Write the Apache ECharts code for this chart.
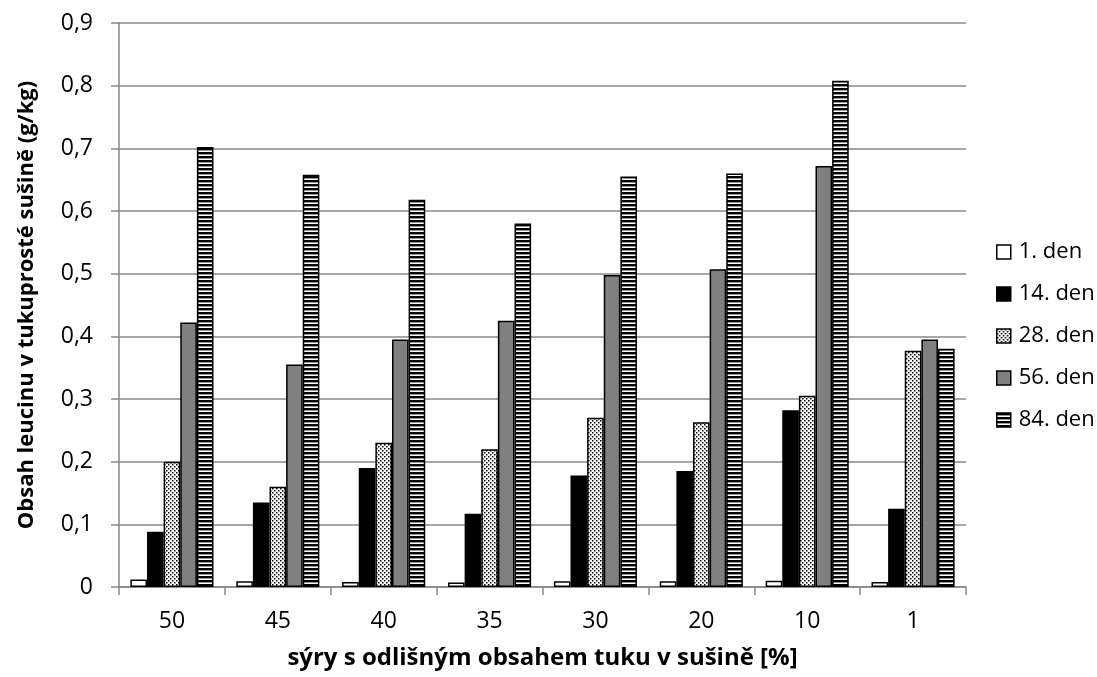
<!DOCTYPE html>
<html>
<head>
<meta charset="utf-8">
<script src="https://cdn.jsdelivr.net/npm/echarts@6/dist/echarts.min.js"></script>
<style>
html,body{margin:0;padding:0;background:#fff;}
#chart{width:1097px;height:677px;}
</style>
</head>
<body>
<div id="chart"></div>
<script>
var categories = ['50', '45', '40', '35', '30', '20', '10', '1'];
var seriesNames = ['1. den', '14. den', '28. den', '56. den', '84. den'];
var den1  = [0.012, 0.009, 0.008, 0.007, 0.009, 0.009, 0.010, 0.008];
var den14 = [0.088, 0.135, 0.190, 0.117, 0.178, 0.185, 0.282, 0.125];
var den28 = [0.200, 0.160, 0.230, 0.220, 0.270, 0.263, 0.305, 0.377];
var den56 = [0.422, 0.355, 0.395, 0.425, 0.498, 0.507, 0.672, 0.395];
var den84 = [0.702, 0.658, 0.618, 0.580, 0.655, 0.660, 0.808, 0.380];
var yTicks = ['0', '0,1', '0,2', '0,3', '0,4', '0,5', '0,6', '0,7', '0,8', '0,9'];

function dotPattern() {
  var c = document.createElement('canvas');
  c.width = 4; c.height = 4;
  var g = c.getContext('2d');
  g.fillStyle = '#ffffff'; g.fillRect(0, 0, 4, 4);
  g.fillStyle = '#000000';
  g.fillRect(0, 0, 1.5, 1.5);
  g.fillRect(2, 2, 1.5, 1.5);
  return c;
}
function stripePattern() {
  var c = document.createElement('canvas');
  c.width = 4; c.height = 4;
  var g = c.getContext('2d');
  g.fillStyle = '#ffffff'; g.fillRect(0, 0, 4, 4);
  g.fillStyle = '#000000'; g.fillRect(0, 0, 4, 2.4);
  return c;
}

var fills = [
  '#ffffff',
  '#000000',
  {image: dotPattern(), repeat: 'repeat'},
  '#808080',
  {image: stripePattern(), repeat: 'repeat'}
];
var dataSets = [den1, den14, den28, den56, den84];

var font = 'Open Sans';
var axisGray = '#898989';

var series = dataSets.map(function (d, i) {
  return {
    name: seriesNames[i],
    type: 'bar',
    data: d,
    barGap: '0%',
    barCategoryGap: '21.5%',
    itemStyle: {color: fills[i], borderColor: '#000000', borderWidth: 1.5},
    emphasis: {disabled: true}
  };
});

var chart = echarts.init(document.getElementById('chart'), null, {renderer: 'canvas'});
chart.setOption({
  animation: false,
  backgroundColor: '#ffffff',
  grid: {left: 119, right: 131, top: 23, bottom: 90, containLabel: false},
  legend: {
    orient: 'vertical',
    left: 991,
    top: 236,
    itemWidth: 14,
    itemHeight: 14,
    itemGap: 20,
    icon: 'rect',
    data: seriesNames,
    textStyle: {fontFamily: font, fontSize: 22, color: '#000', padding: [0, 0, 0, 3]},
    itemStyle: {borderColor: '#000', borderWidth: 1.5}
  },
  xAxis: {
    type: 'category',
    data: categories,
    name: 'sýry s odlišným obsahem tuku v sušině [%]',
    nameLocation: 'middle',
    nameGap: 59,
    nameTextStyle: {fontFamily: font, fontSize: 24, fontWeight: 'bold', color: '#000'},
    axisLine: {lineStyle: {color: axisGray, width: 1.5}},
    axisTick: {show: true, length: 8, lineStyle: {color: axisGray, width: 1.5}},
    axisLabel: {fontFamily: font, fontSize: 23, color: '#000', margin: 23}
  },
  yAxis: {
    type: 'value',
    min: 0,
    max: 0.9,
    interval: 0.1,
    name: 'Obsah leucinu v tukuprosté sušině (g/kg)',
    nameLocation: 'middle',
    nameGap: 81,
    nameRotate: 90,
    nameTextStyle: {fontFamily: font, fontSize: 22, fontWeight: 'bold', color: '#000'},
    axisLine: {show: true, lineStyle: {color: axisGray, width: 1.5}},
    axisTick: {show: true, length: 8, lineStyle: {color: axisGray, width: 1.5}},
    axisLabel: {
      fontFamily: font, fontSize: 23, color: '#000', margin: 26,
      formatter: function (v) { return yTicks[Math.round(v * 10)]; }
    },
    splitLine: {lineStyle: {color: axisGray, width: 1.5}}
  },
  series: series
});
</script>
</body>
</html>
